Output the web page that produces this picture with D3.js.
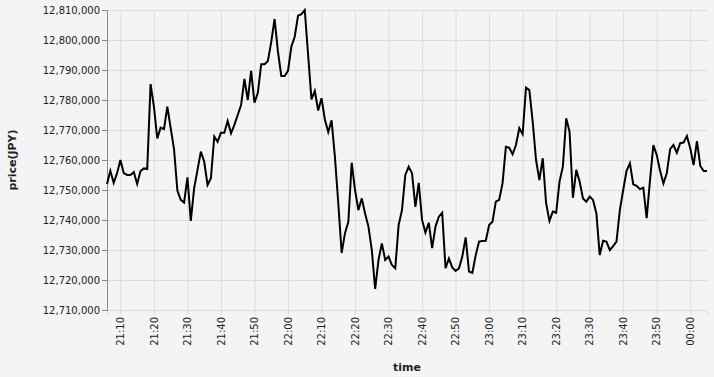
<!DOCTYPE html>
<html>
<head>
<meta charset="utf-8">
<script src="https://cdn.jsdelivr.net/npm/d3@7"></script>
<style>
  html, body { margin: 0; padding: 0; background: #f4f4f4; }
  svg { display: block; }
  text { font-family: "DejaVu Sans", sans-serif; }
</style>
</head>
<body>
<svg id="chart" width="714" height="377"></svg>
<script>
// ---- data ----
const startTime = new Date(2024, 0, 1, 21, 6, 0);   // first sample, one per minute
const prices = [
  12752000, 12756400, 12752400, 12755600, 12760000, 12755600, 12755000, 12755000, 12756000, 12752000,
  12756300, 12757200, 12757000, 12785300, 12777800, 12767200, 12770800, 12770300, 12777800, 12770600,
  12763600, 12749800, 12746700, 12745800, 12754200, 12739700, 12750600, 12756700, 12762800, 12759400,
  12751700, 12753900, 12767800, 12766100, 12769100, 12769100, 12773000, 12768900, 12771700, 12775000,
  12778300, 12787000, 12780000, 12789700, 12779100, 12782400, 12791900, 12791900, 12793000, 12799400,
  12807000, 12796100, 12788000, 12788000, 12789700, 12797800, 12801100, 12808100, 12808600, 12810000,
  12795000, 12780200, 12783000, 12776500, 12780600, 12773500, 12769300, 12773200, 12761000, 12745600,
  12729000, 12735600, 12739400, 12759100, 12750000, 12743300, 12747200, 12742200, 12737800, 12730000,
  12717000, 12726700, 12732200, 12726700, 12727800, 12725000, 12723900, 12738300, 12743300, 12755000,
  12757800, 12755600, 12744400, 12752400, 12740000, 12735800, 12739100, 12730600, 12737800, 12741100,
  12742400, 12723900, 12727200, 12724200, 12723000, 12723900, 12727800, 12734200, 12722800, 12722400,
  12728300, 12732800, 12733000, 12733100, 12738300, 12739400, 12746100, 12746700, 12752200, 12764400,
  12764100, 12761900, 12765000, 12770600, 12768600, 12784100, 12783300, 12772800, 12760000, 12753300,
  12760600, 12745600, 12739700, 12742800, 12742400, 12752800, 12757800, 12773900, 12769400, 12747400,
  12756700, 12752800, 12747200, 12746100, 12747800, 12746700, 12742200, 12728300, 12733100, 12732800,
  12730000, 12731300, 12732800, 12743300, 12750000, 12756400, 12758900, 12751900, 12751400, 12750300,
  12750800, 12740600, 12753300, 12765000, 12761700, 12756400, 12752200, 12755600, 12763600, 12765000,
  12762400, 12765600, 12765800, 12768000, 12763900, 12758300, 12766300, 12758000, 12756300, 12756300
];
const times = prices.map((_, i) => d3.timeMinute.offset(startTime, i));
const yTickValues = [12710000, 12720000, 12730000, 12740000, 12750000, 12760000,
                     12770000, 12780000, 12790000, 12800000, 12810000];
const xTickEvery = 10; // minutes
const xTitle = "time";
const yTitle = "price(JPY)";

// ---- layout ----
const margin = { left: 107, top: 10 };
const width = 600, height = 300;

const svg = d3.select("#chart");
svg.append("rect").attr("width", 714).attr("height", 377).attr("fill", "#f4f4f4");
const g = svg.append("g").attr("transform", `translate(${margin.left},${margin.top})`);

const x = d3.scaleTime().domain(d3.extent(times)).range([0, width]);
const y = d3.scaleLinear().domain([12710000, 12810000]).range([height, 0]);

const xTicks = x.ticks(d3.timeMinute.every(xTickEvery));

// grid
g.append("g")
  .attr("transform", `translate(0,${height})`)
  .call(d3.axisBottom(x).tickValues(xTicks).tickSize(-height).tickFormat(""))
  .call(s => s.select(".domain").remove())
  .call(s => s.selectAll("line").attr("stroke", "#ddd"));
g.append("g")
  .call(d3.axisLeft(y).tickValues(yTickValues).tickSize(-width).tickFormat(""))
  .call(s => s.select(".domain").remove())
  .call(s => s.selectAll("line").attr("stroke", "#ddd"));

// x axis
const xAxis = g.append("g")
  .attr("transform", `translate(0,${height})`)
  .call(d3.axisBottom(x).tickValues(xTicks).tickSize(5).tickPadding(2)
        .tickFormat(d3.timeFormat("%H:%M")));
xAxis.select(".domain").attr("stroke", "#ddd");
xAxis.selectAll(".tick line").attr("stroke", "#ddd");
xAxis.selectAll(".tick text")
  .attr("font-size", 10)
  .attr("fill", "#222")
  .attr("transform", "rotate(-90)")
  .attr("text-anchor", "end")
  .attr("dy", "0.32em")
  .attr("x", -7)
  .attr("y", 0);

// y axis
const yAxis = g.append("g")
  .call(d3.axisLeft(y).tickValues(yTickValues).tickSize(5).tickPadding(2)
        .tickFormat(d3.format(",")));
yAxis.select(".domain").attr("stroke", "#888");
yAxis.selectAll(".tick line").attr("stroke", "#888");
yAxis.selectAll(".tick text").attr("font-size", 10).attr("fill", "#222");

// line
const line = d3.line()
  .x((d, i) => x(times[i]))
  .y(d => y(d));
g.append("path")
  .datum(prices)
  .attr("fill", "none")
  .attr("stroke", "#000")
  .attr("stroke-width", 2)
  .attr("stroke-linejoin", "miter")
  .attr("d", line);

// titles
svg.append("text")
  .attr("x", margin.left + width / 2)
  .attr("y", 371)
  .attr("text-anchor", "middle")
  .attr("font-size", 11)
  .attr("font-weight", "bold")
  .attr("fill", "#222")
  .text(xTitle);
svg.append("text")
  .attr("transform", `translate(16,${margin.top + height / 2}) rotate(-90)`)
  .attr("text-anchor", "middle")
  .attr("font-size", 11)
  .attr("font-weight", "bold")
  .attr("fill", "#222")
  .text(yTitle);
</script>
</body>
</html>
